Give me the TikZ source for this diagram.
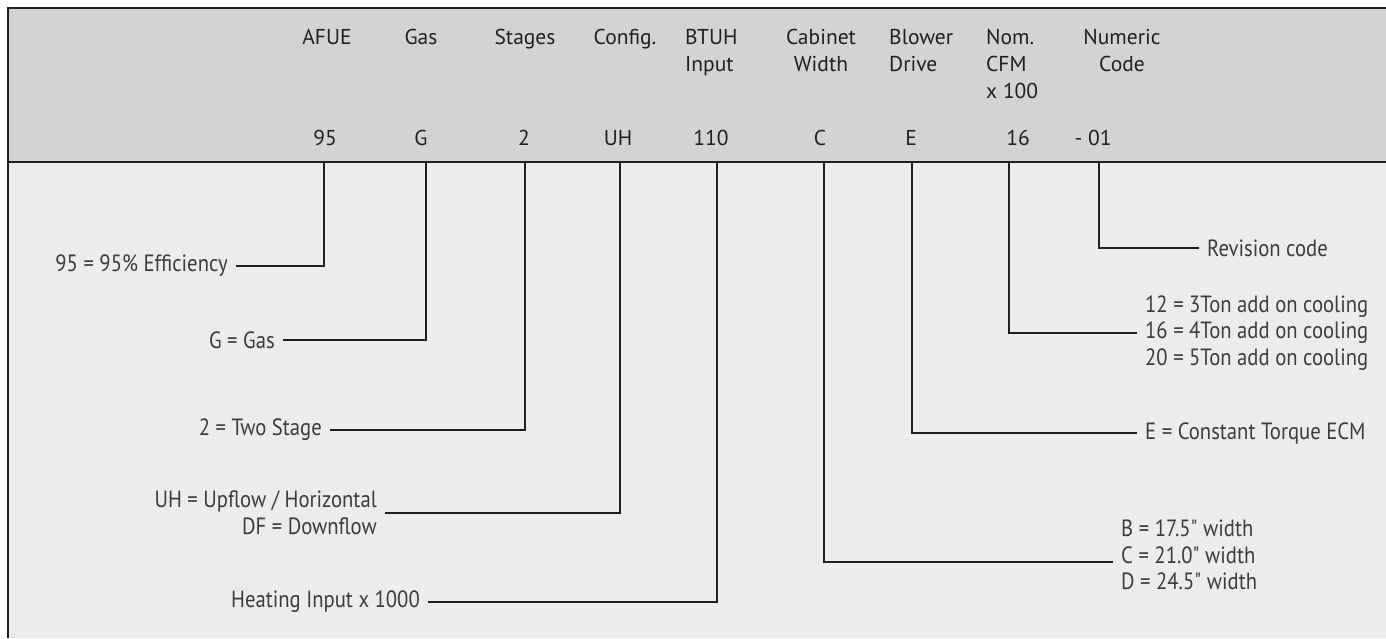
\documentclass[tikz,border=0pt]{standalone}
\usepackage{fontspec}
\setmainfont{PT Sans}
\newfontfamily\descfont[FakeStretch=0.88]{PT Sans}
\usepackage{tikz}

\definecolor{bandgray}{RGB}{210,211,213}
\definecolor{panelgray}{RGB}{235,236,235}
\definecolor{inkgray}{RGB}{35,31,32}
\definecolor{textgray}{RGB}{60,60,60}

\begin{document}
\begin{tikzpicture}[x=1pt, y=-1pt,
    head/.style={font=\fontsize{21.5}{27}\selectfont, text=inkgray, inner sep=0pt, anchor=base},
    code/.style={font=\fontsize{21.5}{27}\selectfont, text=inkgray, inner sep=0pt, anchor=base},
    desc/.style={font=\descfont\fontsize{23.5}{26.5}\selectfont, text=textgray, inner xsep=8pt, inner ysep=0pt},
    link/.style={draw=inkgray, line width=2.2pt}]
        % \draw[help lines, step=50] (0,0) grid (1386,638);
      \useasboundingbox (0,0) rectangle (1386,638);
      \fill[bandgray]  (8,8)   rectangle (1386,162);
      \fill[panelgray] (8,162) rectangle (1386,638);
      \draw[link, line width=2.5pt] (1386,8) -- (8,8) -- (8,638);
      \draw[link] (8,162) -- (1386,162);

      % multi-line labels sit on the baseline of their last line
      \node[head]                            (h_0) at (327,44)  {AFUE};
      \node[head]                            (h_1) at (421,44)  {Gas};
      \node[head]                            (h_2) at (525,44)  {Stages};
      \node[head]                            (h_3) at (625,44)  {Config.};
      \node[head, anchor=base west, align=left]   (h_4) at (685,71)  {BTUH\\Input};
      \node[head, align=center]              (h_5) at (821,71)  {Cabinet\\Width};
      \node[head, anchor=base west, align=left]   (h_6) at (889,71)  {Blower\\Drive};
      \node[head, anchor=base west, align=left]   (h_7) at (986,98)  {Nom.\\CFM\\x 100};
      \node[head, align=center]              (h_8) at (1122,71) {Numeric\\Code};

      \node[code] (c_0) at (325,145)  {95};
      \node[code] (c_1) at (421,145)  {G};
      \node[code] (c_2) at (524,145)  {2};
      \node[code] (c_3) at (618,145)  {UH};
      \node[code] (c_4) at (711,145)  {110};
      \node[code] (c_5) at (820,145)  {C};
      \node[code] (c_6) at (911,145)  {E};
      \node[code] (c_7) at (1018,145) {16};
      \node[code] (c_8) at (1093,145) {- 01};

      \coordinate (t_0) at (324,162);
      \coordinate (t_1) at (426,162);
      \coordinate (t_2) at (525,162);
      \coordinate (t_3) at (620,162);
      \coordinate (t_4) at (717,162);
      \coordinate (t_5) at (824,162);
      \coordinate (t_6) at (912,162);
      \coordinate (t_7) at (1009,162);
      \coordinate (t_8) at (1099,162);

      \node[desc, anchor=east]              (d_0) at (236,266)  {95 = 95\% Efficiency};
      \node[desc, anchor=east]              (d_1) at (283,340)  {G = Gas};
      \node[desc, anchor=east]              (d_2) at (330,430)  {2 = Two Stage};
      \node[desc, anchor=east, align=right] (d_3) at (385,513)  {UH = Upflow / Horizontal\\DF = Downflow};
      \node[desc, anchor=east]              (d_4) at (428,602)  {Heating Input x 1000};
      \node[desc, anchor=west, align=left]  (d_5) at (1113,555) {B = 17.5" width\\C = 21.0" width\\D = 24.5" width};
      \node[desc, anchor=west]              (d_6) at (1137,433) {E = Constant Torque ECM};
      \node[desc, anchor=west, align=left]  (d_7) at (1137,333) {12 = 3Ton add on cooling\\16 = 4Ton add on cooling\\20 = 5Ton add on cooling};
      \node[desc, anchor=west]              (d_8) at (1199,248) {Revision code};

      \draw[link] (t_0) |- (d_0.east);
      \draw[link] (t_1) |- (d_1.east);
      \draw[link] (t_2) |- (d_2.east);
      \draw[link] (t_3) |- (d_3.east);
      \draw[link] (t_4) |- (d_4.east);
      \draw[link] (t_5) |- ([yshift=-7pt]d_5.west);
      \draw[link] (t_6) |- (d_6.west);
      \draw[link] (t_7) |- (d_7.west);
      \draw[link] (t_8) |- (d_8.west);
    \end{tikzpicture}
\end{document}
